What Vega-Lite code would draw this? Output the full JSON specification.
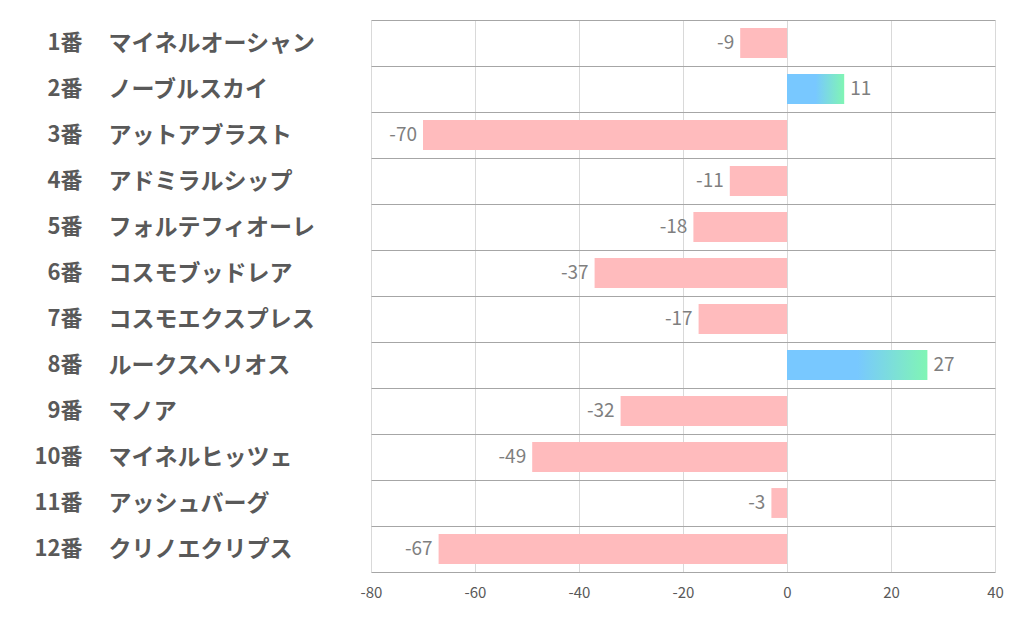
{
  "$schema": "https://vega.github.io/schema/vega-lite/v6.json",
  "width": 624,
  "height": 552,
  "autosize": "none",
  "padding": {"left": 371, "top": 20, "right": 27, "bottom": 54},
  "background": "white",
  "config": {
    "view": {"stroke": null},
    "locale": {"number": {"decimal": ".", "thousands": ",", "grouping": [3], "currency": ["$", ""], "minus": "-"}}
  },
  "data": {"values": [
    {"order": 1, "label": "1番|マイネルオーシャン", "value": -9},
    {"order": 2, "label": "2番|ノーブルスカイ", "value": 11},
    {"order": 3, "label": "3番|アットアブラスト", "value": -70},
    {"order": 4, "label": "4番|アドミラルシップ", "value": -11},
    {"order": 5, "label": "5番|フォルテフィオーレ", "value": -18},
    {"order": 6, "label": "6番|コスモブッドレア", "value": -37},
    {"order": 7, "label": "7番|コスモエクスプレス", "value": -17},
    {"order": 8, "label": "8番|ルークスヘリオス", "value": 27},
    {"order": 9, "label": "9番|マノア", "value": -32},
    {"order": 10, "label": "10番|マイネルヒッツェ", "value": -49},
    {"order": 11, "label": "11番|アッシュバーグ", "value": -3},
    {"order": 12, "label": "12番|クリノエクリプス", "value": -67}
  ]},
  "resolve": {"axis": {"y": "independent"}},
  "layer": [
    {
      "mark": {"type": "bar", "height": {"band": 0.65}},
      "encoding": {
        "y": {
          "field": "label", "type": "nominal", "sort": {"field": "order", "op": "min"},
          "scale": {"paddingInner": 0, "paddingOuter": 0},
          "axis": {
            "orient": "left", "title": null, "domain": false, "ticks": false,
            "grid": true, "gridColor": "#a6a6a6", "gridWidth": 1, "tickBand": "extent",
            "labelExpr": "split(datum.label, '|')[1]",
            "labelAlign": "left", "labelPadding": 263,
            "labelFont": "Noto Sans CJK JP", "labelFontWeight": "bold",
            "labelFontSize": 23, "labelColor": "#595959", "labelLimit": 400
          }
        },
        "x": {
          "field": "value", "type": "quantitative",
          "scale": {"domain": [-80, 40], "nice": false, "zero": true},
          "axis": {
            "title": null, "values": [-80, -60, -40, -20, 0, 20, 40],
            "domain": false, "ticks": false, "grid": true, "gridColor": "#d9d9d9",
            "labelFont": "Noto Sans CJK JP", "labelFontSize": 15, "labelColor": "#595959",
            "labelPadding": 13, "labelFlush": false, "labelOverlap": false
          }
        },
        "color": {
          "condition": {
            "test": "datum.value > 0",
            "value": {
              "gradient": "linear", "x1": 0, "x2": 1, "y1": 0, "y2": 0,
              "stops": [
                {"offset": 0, "color": "#78C8FF"},
                {"offset": 0.5, "color": "#78C8FF"},
                {"offset": 1, "color": "#80F5B4"}
              ]
            }
          },
          "value": "#FFBBBD"
        }
      }
    },
    {
      "mark": {"type": "text", "align": "right", "dx": -6, "baseline": "middle", "font": "Noto Sans CJK JP", "fontSize": 19, "color": "#7f7f7f"},
      "encoding": {
        "y": {
          "field": "label", "type": "nominal", "sort": {"field": "order", "op": "min"},
          "axis": {
            "orient": "left", "title": null, "domain": false, "ticks": false, "grid": false,
            "labelExpr": "split(datum.label, '|')[0]",
            "labelAlign": "right", "labelPadding": 289,
            "labelFont": "Noto Sans CJK JP", "labelFontWeight": "bold",
            "labelFontSize": 22, "labelColor": "#595959"
          }
        },
        "x": {"field": "value", "type": "quantitative"},
        "text": {"condition": {"test": "datum.value < 0", "field": "value", "type": "quantitative"}, "value": ""}
      }
    },
    {
      "mark": {"type": "text", "align": "left", "dx": 6, "baseline": "middle", "font": "Noto Sans CJK JP", "fontSize": 19, "color": "#7f7f7f"},
      "encoding": {
        "y": {"field": "label", "type": "nominal", "sort": {"field": "order", "op": "min"}, "axis": null},
        "x": {"field": "value", "type": "quantitative"},
        "text": {"condition": {"test": "datum.value > 0", "field": "value", "type": "quantitative"}, "value": ""}
      }
    }
  ]
}
